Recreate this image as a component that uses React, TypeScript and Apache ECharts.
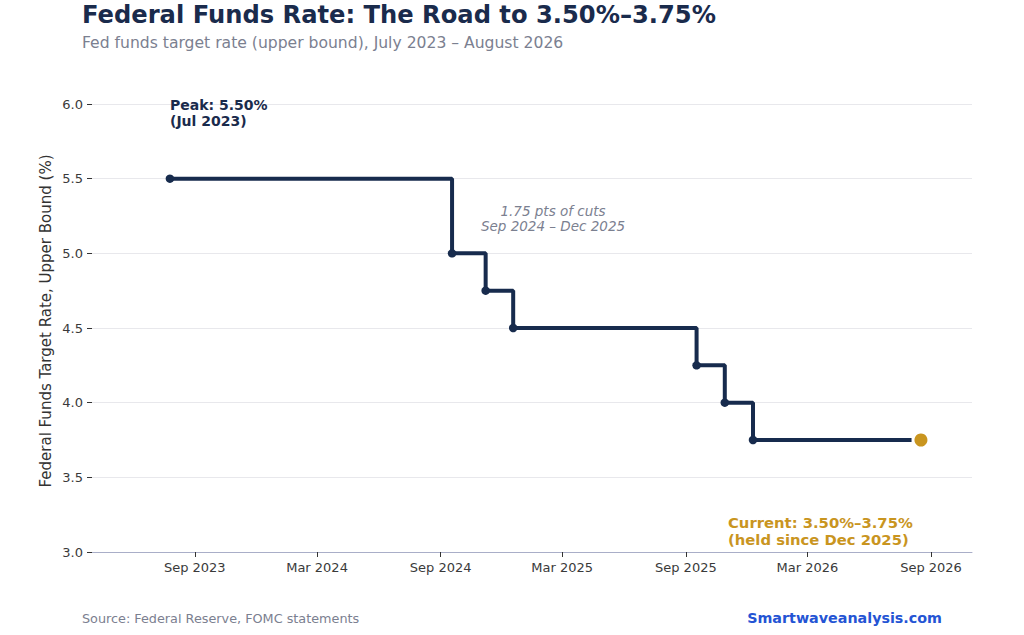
import React, { useEffect, useRef } from "react";
import * as echarts from "echarts";

const rateDates = ["2023-07-26", "2024-09-18", "2024-11-07", "2024-12-18", "2025-09-17", "2025-10-29", "2025-12-10", "2026-08-03"];
const rateValues = [5.5, 5.0, 4.75, 4.5, 4.25, 4.0, 3.75, 3.75];
const currentDate = "2026-08-17";
const currentValue = 3.75;
const xTickDates = ["2023-09-01", "2024-03-01", "2024-09-01", "2025-03-01", "2025-09-01", "2026-03-01", "2026-09-01"];
const xMin = "2023-04-01";
const xMax = "2026-11-01";
const monthNames = ["Jan", "Feb", "Mar", "Apr", "May", "Jun", "Jul", "Aug", "Sep", "Oct", "Nov", "Dec"];

const ts = (s: string) => {
  const [y, m, d] = s.split("-").map(Number);
  return Date.UTC(y, m - 1, d);
};

const NAVY = "#172b4d";
const GOLD = "#c9951f";
const GRAY = "#7b8090";
const FONT = "DejaVu Sans";

export default function App() {
  const ref = useRef<HTMLDivElement>(null);
  useEffect(() => {
    if (!ref.current) return;
    const chart = echarts.init(ref.current, undefined, { renderer: "svg" });
    const tickTs = xTickDates.map(ts);
    const lineData = rateDates.map((d, i) => {
      const item: any = { value: [ts(d), rateValues[i]] };
      if (i === rateDates.length - 1) item.symbol = "none";
      return item;
    });
    chart.setOption({
      animation: false,
      textStyle: { fontFamily: FONT },
      grid: { left: 92, right: 52, top: 104, bottom: 83, containLabel: false },
      xAxis: {
        type: "value",
        min: ts(xMin),
        max: ts(xMax),
        axisLine: { show: true, lineStyle: { color: "#a9aec8", width: 1 } },
        axisTick: { show: true, customValues: tickTs, length: 5, lineStyle: { color: "#333333" } },
        axisLabel: {
          customValues: tickTs,
          margin: 9,
          color: "#3a3a3a",
          fontSize: 13,
          fontFamily: FONT,
          formatter: (v: number) => {
            const d = new Date(v);
            return monthNames[d.getUTCMonth()] + " " + d.getUTCFullYear();
          },
        },
        splitLine: { show: false },
      },
      yAxis: {
        type: "value",
        min: 3,
        max: 6,
        interval: 0.5,
        axisLine: { show: false },
        axisTick: { show: true, length: 5, lineStyle: { color: "#333333" } },
        axisLabel: { color: "#3a3a3a", fontSize: 13, fontFamily: FONT, margin: 9, formatter: (v: number) => v.toFixed(1) },
        splitLine: { show: true, lineStyle: { color: "#e8e8ec", width: 1 } },
      },
      series: [
        {
          type: "line",
          step: "end",
          data: lineData,
          symbol: "circle",
          symbolSize: 8.5,
          lineStyle: { color: NAVY, width: 4 },
          itemStyle: { color: NAVY, opacity: 1 },
          z: 3,
        },
        {
          type: "scatter",
          data: [[ts(currentDate), currentValue]],
          symbol: "circle",
          symbolSize: 13,
          itemStyle: { color: GOLD, opacity: 1 },
          z: 4,
        },
      ],
      graphic: [
        {
          type: "text", left: 82, top: 3, z: 100,
          style: { text: "Federal Funds Rate: The Road to 3.50%–3.75%", font: `bold 24.2px "${FONT}"`, fill: "#1a2b4c" },
        },
        {
          type: "text", left: 82, top: 35, z: 100,
          style: { text: "Fed funds target rate (upper bound), July 2023 – August 2026", font: `15.6px "${FONT}"`, fill: GRAY },
        },
        {
          type: "text", x: 46, y: 321, rotation: Math.PI / 2, z: 100,
          style: { text: "Federal Funds Target Rate, Upper Bound (%)", font: `15px "${FONT}"`, fill: "#333333", align: "center", verticalAlign: "middle" },
        },
        {
          type: "text", x: 170, y: 97, z: 100,
          style: { text: "Peak: 5.50%\n(Jul 2023)", font: `bold 14px "${FONT}"`, fill: "#1a2b4c", lineHeight: 16, verticalAlign: "top" },
        },
        {
          type: "text", x: 553, y: 203, z: 100,
          style: { text: "1.75 pts of cuts\nSep 2024 – Dec 2025", font: `italic 13.5px "${FONT}"`, fill: GRAY, lineHeight: 15, align: "center", verticalAlign: "top" },
        },
        {
          type: "text", x: 728, y: 514, z: 100,
          style: { text: "Current: 3.50%–3.75%\n(held since Dec 2025)", font: `bold 14.8px "${FONT}"`, fill: GOLD, lineHeight: 17, verticalAlign: "top" },
        },
        {
          type: "text", x: 82, y: 618, z: 100,
          style: { text: "Source: Federal Reserve, FOMC statements", font: `12.8px "${FONT}"`, fill: GRAY, verticalAlign: "middle" },
        },
        {
          type: "text", x: 942, y: 618, z: 100,
          style: { text: "Smartwaveanalysis.com", font: `bold 14.3px "${FONT}"`, fill: "#2454d4", align: "right", verticalAlign: "middle" },
        },
      ],
    });
    return () => chart.dispose();
  }, []);
  return <div ref={ref} style={{ width: 1024, height: 635, position: "absolute", left: 0, top: 0 }} />;
}
